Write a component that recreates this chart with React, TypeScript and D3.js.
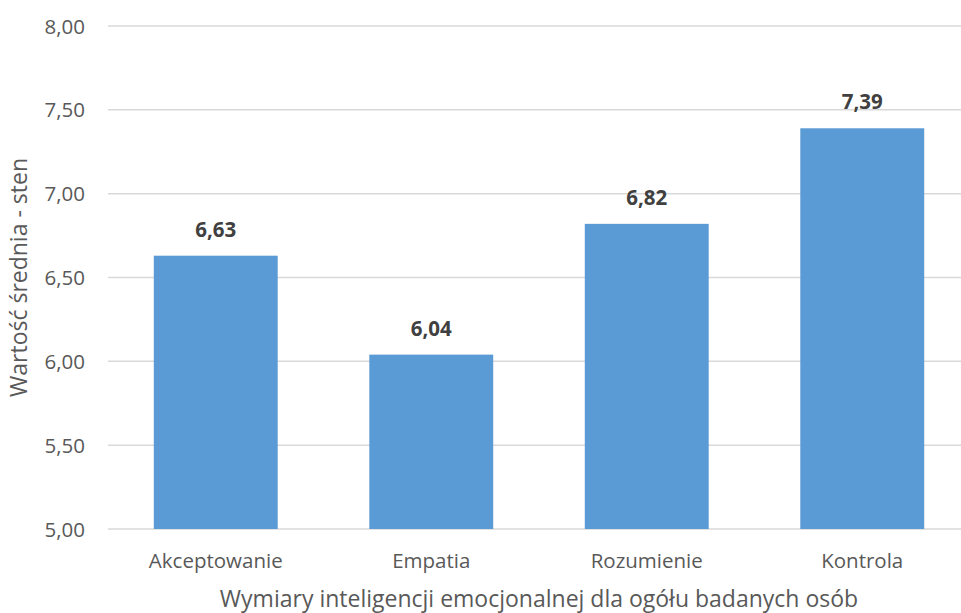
import React from "react";
import * as d3 from "d3";

// Mean sten scores per dimension of emotional intelligence
const categories = ["Akceptowanie", "Empatia", "Rozumienie", "Kontrola"];
const values = [6.63, 6.04, 6.82, 7.39];
const yTicks = [5.0, 5.5, 6.0, 6.5, 7.0, 7.5, 8.0];

const xTitle = "Wymiary inteligencji emocjonalnej dla ogółu badanych osób";
const yTitle = "Wartość średnia - sten";

const W = 961;
const H = 613;
const FONT = "'Open Sans', sans-serif";

export default function App() {
  const plotLeft = 108;
  const plotRight = 970;
  const plotTop = 26;
  const plotBottom = 529;

  const x = d3
    .scaleBand<string>()
    .domain(categories)
    .range([plotLeft, plotRight])
    .paddingInner(0.425)
    .paddingOuter(0.2125);

  const y = d3.scaleLinear().domain([5, 8]).range([plotBottom, plotTop]);
  const fmt = (v: number) => d3.format(".2f")(v).replace(".", ",");

  return (
    <svg
      width={W}
      height={H}
      style={{ position: "fixed", left: 0, top: 0, background: "#fff" }}
      fontFamily={FONT}
    >
      {yTicks.map((t) => (
        <g key={t}>
          <line
            x1={plotLeft}
            x2={plotRight}
            y1={y(t)}
            y2={y(t)}
            stroke="#D9D9D9"
            strokeWidth={1.5}
          />
          <text
            x={85}
            y={y(t) + 7.5}
            textAnchor="end"
            fontSize={20.5}
            fill="#595959"
          >
            {fmt(t)}
          </text>
        </g>
      ))}

      {categories.map((c, i) => (
        <g key={c}>
          <rect
            x={x(c)}
            y={y(values[i])}
            width={x.bandwidth()}
            height={plotBottom - y(values[i])}
            fill="#5B9BD5"
          />
          <text
            x={(x(c) as number) + x.bandwidth() / 2}
            y={y(values[i]) - 19}
            textAnchor="middle"
            fontSize={20.5}
            fontWeight={700}
            fill="#404040"
          >
            {fmt(values[i])}
          </text>
          <text
            x={(x(c) as number) + x.bandwidth() / 2}
            y={568}
            textAnchor="middle"
            fontSize={20.5}
            fill="#595959"
          >
            {c}
          </text>
        </g>
      ))}

      <text
        x={(plotLeft + plotRight) / 2}
        y={607}
        textAnchor="middle"
        fontSize={23}
        fill="#595959"
      >
        {xTitle}
      </text>
      <text
        transform={`translate(27,${(plotTop + plotBottom) / 2}) rotate(-90)`}
        textAnchor="middle"
        fontSize={23}
        fill="#595959"
      >
        {yTitle}
      </text>
    </svg>
  );
}
